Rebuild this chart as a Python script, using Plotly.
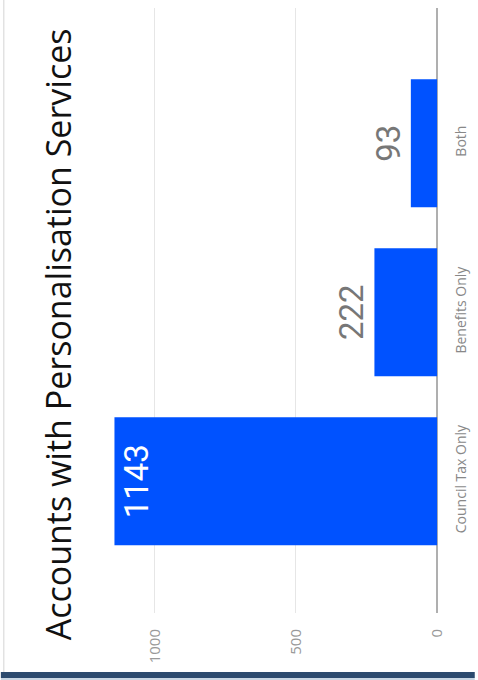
import plotly.graph_objects as go

# ---- data ----
categories = ["Council Tax Only", "Benefits Only", "Both"]
values = [1143, 222, 93]
label_positions = ["inside", "outside", "outside"]
value_ticks = [0, 500, 1000]
title_text = "Accounts with Personalisation Services"

# ---- layout geometry (pixels) ----
W, H = 478, 680
L, R, T, B = 100, 450, 8, 613
PW, PH = R - L, B - T

def px_x(x):
    return (x - L) / PW

def px_y(y):
    return (B - y) / PH

BAR_COLOR = "#0052FF"

fig = go.Figure(
    go.Bar(
        x=values,
        y=categories,
        orientation="h",
        marker=dict(color=BAR_COLOR, line=dict(width=0)),
        text=[str(v) for v in values],
        textposition=label_positions,
        textangle=-90,
        insidetextfont=dict(family="Liberation Sans Narrow, Roboto, sans-serif", size=33, color="white"),
        outsidetextfont=dict(family="Liberation Sans Narrow, Roboto, sans-serif", size=33, color="#777777"),
        constraintext="none",
        cliponaxis=False,
        hoverinfo="skip",
    )
)

fig.update_layout(
    width=W,
    height=H,
    margin=dict(l=L, r=W - R, t=T, b=H - B, pad=0),
    paper_bgcolor="white",
    plot_bgcolor="white",
    bargap=0.243,
    showlegend=False,
    font=dict(family="Open Sans, sans-serif"),
    xaxis=dict(
        range=[(440 - L) / 0.2847, (440 - R) / 0.2847],
        tickvals=value_ticks,
        ticktext=[str(v) for v in value_ticks],
        tickangle=-90,
        tickfont=dict(size=15, color="#999999"),
        showgrid=True,
        gridcolor="#E6E6E6",
        gridwidth=1,
        zeroline=True,
        zerolinecolor="#AFAFAF",
        zerolinewidth=2,
        showline=False,
        ticks="",
        ticklabelstandoff=12,
        fixedrange=True,
    ),
    yaxis=dict(
        categoryorder="array",
        categoryarray=categories,
        range=[-0.78, 2.80],
        side="right",
        tickangle=-90,
        tickfont=dict(size=14, color="#888888"),
        showgrid=False,
        zeroline=False,
        showline=False,
        ticks="",
        ticklabelstandoff=4,
        fixedrange=True,
    ),
    annotations=[
        dict(
            text=title_text,
            textangle=-90,
            xref="paper",
            yref="paper",
            x=px_x(58),
            y=px_y(334),
            xanchor="center",
            yanchor="middle",
            showarrow=False,
            font=dict(family="Open Sans, sans-serif", size=34, color="#111111"),
        )
    ],
    shapes=[
        dict(type="line", xref="paper", yref="paper",
             x0=px_x(3), x1=px_x(3), y0=px_y(0), y1=px_y(672),
             line=dict(color="#D4D4D4", width=1)),
        dict(type="rect", xref="paper", yref="paper",
             x0=px_x(0), x1=px_x(W), y0=px_y(672), y1=px_y(678),
             fillcolor="#2C4A6E", line=dict(width=0)),
        dict(type="rect", xref="paper", yref="paper",
             x0=px_x(0), x1=px_x(W), y0=px_y(678), y1=px_y(680),
             fillcolor="#C9D6E3", line=dict(width=0)),
    ],
)

fig.write_html("out.html", config={"displayModeBar": False})
